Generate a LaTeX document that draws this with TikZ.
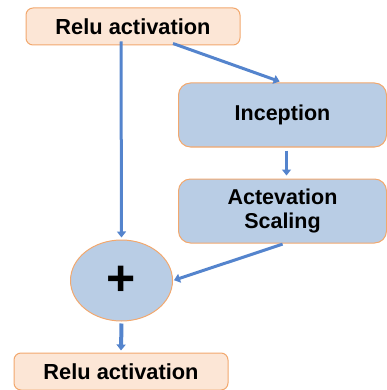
\documentclass[tikz,border=0pt]{standalone}
\usepackage{fontspec}
\setmainfont{Liberation Sans}
\usetikzlibrary{arrows.meta,shapes.geometric}
\definecolor{peach}{RGB}{252,230,214}
\definecolor{steel}{RGB}{185,205,229}
\definecolor{boxedge}{RGB}{242,168,110}
\definecolor{flowblue}{RGB}{84,132,205}
\begin{document}
\begin{tikzpicture}[x=1pt,y=-1pt,
  relubox/.style={draw=boxedge, fill=peach, rounded corners=7pt, line width=1pt,
    minimum width=214pt, minimum height=37pt, inner sep=0pt,
    font=\fontsize{21.8}{24}\selectfont\bfseries},
  stagebox/.style={draw=boxedge, fill=steel, rounded corners=12pt, line width=1pt,
    minimum width=208pt, minimum height=64pt, inner sep=0pt, align=center,
    font=\fontsize{21.5}{23.5}\selectfont\bfseries},
  sumnode/.style={draw=boxedge, fill=steel, ellipse, line width=1pt,
    minimum width=102pt, minimum height=81pt, inner sep=0pt,
    font=\fontsize{50}{50}\selectfont\bfseries},
  flow/.style={draw=flowblue, line width=3pt,
    -{Triangle[length=6pt,width=9pt]}}]
\useasboundingbox (0,0) rectangle (387,390);

% blocks
\node[relubox] (in) at (133,26.5) {Relu activation};
\node[stagebox] (inc) at (282.5,115) {Inception};
\node[stagebox] (scale) at (282.5,211) {Actevation\\Scaling};
\node[sumnode] (sum) at (121.5,280.5) {+};
\node[relubox] (out) at (121,371.5) {Relu activation};

% connections
\draw[flow, shorten >=2pt] ([xshift=-12pt,yshift=4pt]in.south) -- (sum.north);
\draw[flow, shorten >=3pt] ([xshift=40pt,yshift=2pt]in.south) -- (inc.north);
\draw[flow, shorten <=3pt, shorten >=3pt] ([xshift=4pt]inc.south) -- ([xshift=4pt]scale.north);
\draw[flow, shorten <=2pt, shorten >=1pt] ([xshift=2pt]scale.south) -- (sum.east);
\draw[flow, line width=4pt, shorten <=2pt, shorten >=2pt] (sum.south) -- (out.north);
\end{tikzpicture}
\end{document}
